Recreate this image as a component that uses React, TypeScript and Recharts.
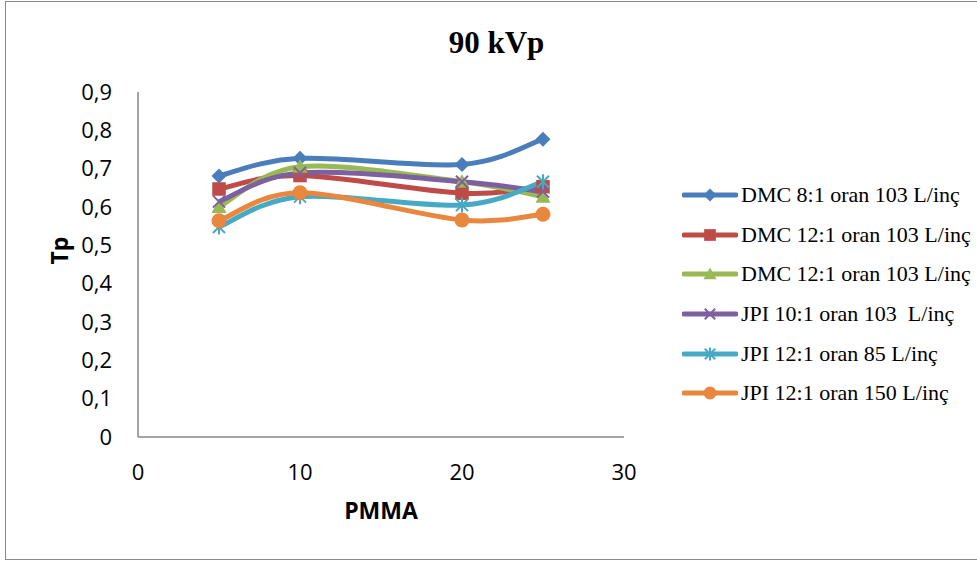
import { FC } from "react";
import {
    LineChart,
    Line,
    XAxis,
    YAxis,
    Legend,
} from "recharts";

const pmma = [5, 10, 20, 25];

const dmc8 = [0.681, 0.727, 0.711, 0.777];
const dmc12a = [0.647, 0.682, 0.636, 0.653];
const dmc12b = [0.600, 0.705, 0.666, 0.627];
const jpi10 = [0.614, 0.689, 0.666, 0.640];
const jpi12_85 = [0.548, 0.627, 0.605, 0.666];
const jpi12_150 = [0.564, 0.637, 0.566, 0.581];

const seriesNames = [
    "DMC 8:1 oran 103 L/inç",
    "DMC 12:1 oran 103 L/inç",
    "DMC 12:1 oran 103 L/inç",
    "JPI 10:1 oran 103  L/inç",
    "JPI 12:1 oran 85 L/inç",
    "JPI 12:1 oran 150 L/inç",
];

const xTicks = [0, 10, 20, 30];
const yTicks = [0, 0.1, 0.2, 0.3, 0.4, 0.5, 0.6, 0.7, 0.8, 0.9];

type Shape = "diamond" | "square" | "triangle" | "x" | "star" | "circle";

const series: { key: string, values: number[], color: string, shape: Shape }[] = [
    { key: "s0", values: dmc8, color: "#4A7EBB", shape: "diamond" },
    { key: "s1", values: dmc12a, color: "#BE4B48", shape: "square" },
    { key: "s2", values: dmc12b, color: "#98B954", shape: "triangle" },
    { key: "s3", values: jpi10, color: "#7D60A0", shape: "x" },
    { key: "s4", values: jpi12_85, color: "#46AAC5", shape: "star" },
    { key: "s5", values: jpi12_150, color: "#E8873D", shape: "circle" },
];

const data = pmma.map((x, i) => {
    const row: Record<string, number> = { pmma: x };
    series.forEach(s => { row[s.key] = s.values[i]; });
    return row;
});

// excel style smoothing (catmull-rom like)
const excelCurve = (ctx: any) => {
    let pts: number[][] = [];
    return {
        areaStart() {},
        areaEnd() {},
        lineStart() { pts = []; },
        point(x: number, y: number) { pts.push([x, y]); },
        lineEnd() {
            const n = pts.length;
            if (!n) return;
            ctx.moveTo(pts[0][0], pts[0][1]);
            for (let i = 0; i < n - 1; i++) {
                const p0 = pts[Math.max(i - 1, 0)];
                const p1 = pts[i];
                const p2 = pts[i + 1];
                const p3 = pts[Math.min(i + 2, n - 1)];
                ctx.bezierCurveTo(
                    p1[0] + (p2[0] - p0[0]) / 6, p1[1] + (p2[1] - p0[1]) / 6,
                    p2[0] - (p3[0] - p1[0]) / 6, p2[1] - (p3[1] - p1[1]) / 6,
                    p2[0], p2[1]
                );
            }
        },
    };
};

const Marker: FC<{ shape: Shape, cx: number, cy: number, color: string, s: number }> = ({ shape, cx, cy, color, s }) => {
    switch (shape) {
        case "diamond":
            return <path d={`M${cx},${cy - s}L${cx + s},${cy}L${cx},${cy + s}L${cx - s},${cy}Z`} fill={color} />;
        case "square":
            return <rect x={cx - s * 0.9} y={cy - s * 0.9} width={s * 1.8} height={s * 1.8} fill={color} />;
        case "triangle":
            return <path d={`M${cx},${cy - s}L${cx + s},${cy + s * 0.8}L${cx - s},${cy + s * 0.8}Z`} fill={color} />;
        case "x":
            return <path d={`M${cx - s * 0.8},${cy - s * 0.8}L${cx + s * 0.8},${cy + s * 0.8}M${cx + s * 0.8},${cy - s * 0.8}L${cx - s * 0.8},${cy + s * 0.8}`} stroke={color} strokeWidth={2} />;
        case "star":
            return <path d={`M${cx - s * 0.8},${cy - s * 0.8}L${cx + s * 0.8},${cy + s * 0.8}M${cx + s * 0.8},${cy - s * 0.8}L${cx - s * 0.8},${cy + s * 0.8}M${cx},${cy - s}L${cx},${cy + s}`} stroke={color} strokeWidth={2} />;
        default:
            return <circle cx={cx} cy={cy} r={s} fill={color} />;
    }
};

const dotFor = (shape: Shape, color: string) => (p: any) =>
    <Marker key={`${shape}-${p.index}`} shape={shape} cx={p.cx} cy={p.cy} color={color} s={7.5} />;

const fmtY = (v: number) => v === 0 ? "0" : v.toFixed(1).replace(".", ",");

const LegendBox = () => <div style={{ fontFamily: "'Liberation Serif', serif", fontSize: 22, color: "#000" }}>
    {series.map((s, i) => <div key={s.key} style={{ display: "flex", alignItems: "center", height: 39.7 }}>
        <svg width={56} height={20} style={{ marginRight: 3, flexShrink: 0 }}>
            <line x1={2} y1={10} x2={54} y2={10} stroke={s.color} strokeWidth={5} strokeLinecap="round" />
            <Marker shape={s.shape} cx={28} cy={10} color={s.color} s={6.5} />
        </svg>
        <span style={{ whiteSpace: "pre" }}>{seriesNames[i]}</span>
    </div>)}
</div>

const App = () => {
    return <div style={{ position: "absolute", left: 0, top: 0, width: 977, height: 563, background: "#fff" }}>
        <div style={{ position: "absolute", left: 5, top: 1, width: 990, height: 557, border: "1.5px solid #8a8a8a" }} />
        <div style={{
            position: "absolute", left: 0, width: 993, top: 25, textAlign: "center",
            fontFamily: "'Liberation Serif', serif", fontWeight: "bold", fontSize: 31
        }}>90 kVp</div>
        <div style={{ position: "absolute", left: 0, top: 0 }}>
            <LineChart
                width={977}
                height={563}
                data={data}
                margin={{ top: 92, right: 53, bottom: 36, left: 0 }}
            >
                <XAxis
                    dataKey="pmma"
                    type="number"
                    domain={[0, 30]}
                    ticks={xTicks}
                    height={90}
                    tickLine={false}
                    tickSize={0}
                    tickMargin={27}
                    stroke="#868686"
                    strokeWidth={1.5}
                    tick={{ fill: "#000", fontSize: 22, fontFamily: "'Open Sans'" }}
                    label={{ value: "PMMA", position: "insideBottom", offset: 8, fill: "#000", fontSize: 23, fontWeight: "bold", fontFamily: "'Open Sans'" }}
                />
                <YAxis
                    type="number"
                    domain={[0, 0.9]}
                    ticks={yTicks}
                    width={138}
                    tickLine={false}
                    tickSize={0}
                    tickMargin={26}
                    tickFormatter={fmtY}
                    stroke="#868686"
                    strokeWidth={1.5}
                    tick={{ fill: "#000", fontSize: 22, fontFamily: "'Open Sans'" }}
                    label={{ value: "Tp", angle: -90, position: "insideLeft", offset: 60, fill: "#000", fontSize: 23, fontWeight: "bold", fontFamily: "'Open Sans'" }}
                />
                <Legend
                    layout="horizontal"
                    verticalAlign="middle"
                    align="right"
                    content={() => <LegendBox />}
                    wrapperStyle={{ position: "absolute", left: 682, top: 175, width: 300 }}
                />
                {series.map((s, i) => <Line
                    key={s.key}
                    dataKey={s.key}
                    name={seriesNames[i]}
                    type={excelCurve as any}
                    stroke={s.color}
                    strokeWidth={5}
                    dot={dotFor(s.shape, s.color)}
                    activeDot={false}
                    isAnimationActive={false}
                />)}
            </LineChart>
        </div>
    </div>
}

export default App
